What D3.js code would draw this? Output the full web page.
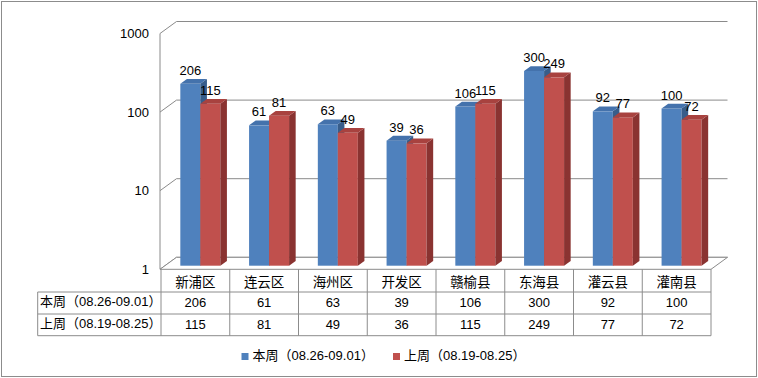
<!DOCTYPE html>
<html>
<head>
<meta charset="utf-8">
<script src="https://cdn.jsdelivr.net/npm/d3@7"></script>
<style>
  body { margin: 0; background: #fff; }
  svg { display: block; font-family: "Liberation Sans", Arial, "Noto Sans CJK SC", sans-serif; }
</style>
</head>
<body>
<div id="chart"></div>
<script>
var categories = ["新浦区", "连云区", "海州区", "开发区", "赣榆县", "东海县", "灌云县", "灌南县"];
var seriesNames = ["本周（08.26-09.01）", "上周（08.19-08.25）"];
var thisWeek = [206, 61, 63, 39, 106, 300, 92, 100];
var lastWeek = [115, 81, 49, 36, 115, 249, 77, 72];
var yTicks = [1, 10, 100, 1000];

var series = [thisWeek, lastWeek];
var colors = [
  { front: "#4f81bd", top: "#4472ac", side: "#385d8a" },
  { front: "#c0504d", top: "#a8423f", side: "#8a3331" }
];

var width = 758, height = 378;
var depth = { dx: 16.5, dy: -12 };
var f0 = 0.3, f1 = 0.7;   // bar front/back as a share of the depth
var gridColor = "#8a8a8a";

var svg = d3.select("#chart").append("svg")
  .attr("width", width).attr("height", height);

// outer frame
svg.append("rect")
  .attr("x", 1.5).attr("y", 1.5)
  .attr("width", width - 3).attr("height", height - 3)
  .attr("fill", "#fff").attr("stroke", "#8c8c8c");

var x = d3.scaleBand().domain(categories).range([161, 711]);
var xs = d3.scaleBand().domain([0, 1]).range([0, 40]);
var y = d3.scaleLog().domain([1, 1000]).range([269.3, 33.5]);

var plot = svg.append("g");

// back wall gridlines and side wall diagonals
yTicks.forEach(function(t){
  var yy = y(t);
  plot.append("line")
    .attr("x1", x.range()[0] - 1 + depth.dx).attr("y1", yy + depth.dy)
    .attr("x2", x.range()[1] + depth.dx).attr("y2", yy + depth.dy)
    .attr("stroke", gridColor);
  plot.append("line")
    .attr("x1", x.range()[0] - 1).attr("y1", yy)
    .attr("x2", x.range()[0] - 1 + depth.dx).attr("y2", yy + depth.dy)
    .attr("stroke", gridColor);
});

// floor outline
var x0 = x.range()[0] - 1, x1 = x.range()[1], yb = y(1);
plot.append("path")
  .attr("d", "M" + x0 + "," + yb + "L" + x1 + "," + yb +
    "L" + (x1 + depth.dx) + "," + (yb + depth.dy) +
    "L" + (x0 + depth.dx) + "," + (yb + depth.dy) + "Z")
  .attr("fill", "#fff").attr("stroke", gridColor);

// front value axis
plot.append("line")
  .attr("x1", x0).attr("y1", y(1000))
  .attr("x2", x0).attr("y2", yb)
  .attr("stroke", gridColor);

plot.selectAll("text.tick")
  .data(yTicks)
  .enter().append("text")
  .attr("class", "tick")
  .attr("x", 149).attr("y", function(d){ return y(d); })
  .attr("dy", "0.35em")
  .attr("text-anchor", "end")
  .attr("font-size", 13)
  .text(function(d){ return d; });

// 3D bars
var bars = plot.append("g");
categories.forEach(function(c, i){
  series.forEach(function(s, k){
    var col = colors[k];
    var left = x(c) + (x.bandwidth() - 40) / 2 + xs(k) + depth.dx * f0;
    var right = left + xs.bandwidth();
    var top = y(s[i]) + depth.dy * f0;
    var bottom = y(1) + depth.dy * f0;
    var ddx = depth.dx * (f1 - f0), ddy = depth.dy * (f1 - f0);
    bars.append("rect")
      .attr("x", left).attr("y", top)
      .attr("width", right - left).attr("height", bottom - top)
      .attr("fill", col.front);
    bars.append("path")
      .attr("d", "M" + right + "," + top + "L" + (right + ddx) + "," + (top + ddy) +
        "L" + (right + ddx) + "," + (bottom + ddy) + "L" + right + "," + bottom + "Z")
      .attr("fill", col.side);
    bars.append("path")
      .attr("d", "M" + left + "," + top + "L" + right + "," + top +
        "L" + (right + ddx) + "," + (top + ddy) + "L" + (left + ddx) + "," + (top + ddy) + "Z")
      .attr("fill", col.top);
  });
});

// data labels
categories.forEach(function(c, i){
  series.forEach(function(s, k){
    var left = x(c) + (x.bandwidth() - 40) / 2 + xs(k) + depth.dx * f0;
    plot.append("text")
      .attr("x", left + xs.bandwidth() / 2)
      .attr("y", y(s[i]) + depth.dy * f0 - 9)
      .attr("text-anchor", "middle")
      .attr("font-size", 13)
      .text(s[i]);
  });
});

// data table
var rowTop = [269.3, 292, 314, 335.7];
var tableLeft = 37.7;
var table = svg.append("g").attr("stroke", "#8c8c8c");
[1, 2, 3].forEach(function(r){
  table.append("line")
    .attr("x1", tableLeft).attr("y1", rowTop[r])
    .attr("x2", x1).attr("y2", rowTop[r]);
});
table.append("line")
  .attr("x1", tableLeft).attr("y1", rowTop[1])
  .attr("x2", tableLeft).attr("y2", rowTop[3]);
categories.concat([null]).forEach(function(c){
  var xx = c === null ? x1 : x(c);
  table.append("line")
    .attr("x1", xx).attr("y1", rowTop[0])
    .attr("x2", xx).attr("y2", rowTop[3]);
});

svg.selectAll("text.cat")
  .data(categories)
  .enter().append("text")
  .attr("class", "cat")
  .attr("x", function(d){ return x(d) + x.bandwidth() / 2; })
  .attr("y", 287)
  .attr("text-anchor", "middle")
  .attr("font-size", 13.5)
  .text(function(d){ return d; });

series.forEach(function(s, k){
  var base = rowTop[k + 1] + 14.5;
  svg.append("text")
    .attr("x", 40).attr("y", base - 1)
    .attr("font-size", 13)
    .text(seriesNames[k]);
  svg.selectAll("text.val" + k)
    .data(s)
    .enter().append("text")
    .attr("class", "val" + k)
    .attr("x", function(d, i){ return x(categories[i]) + x.bandwidth() / 2; })
    .attr("y", base)
    .attr("text-anchor", "middle")
    .attr("font-size", 13)
    .text(function(d){ return d; });
});

// legend
var legendX = [241.5, 393];
seriesNames.forEach(function(n, k){
  var g = svg.append("g").attr("transform", "translate(" + legendX[k] + ",353)");
  g.append("rect").attr("width", 7).attr("height", 7).attr("fill", colors[k].front);
  g.append("text").attr("x", 11).attr("y", 6.5).attr("font-size", 13).text(n);
});
</script>
</body>
</html>
